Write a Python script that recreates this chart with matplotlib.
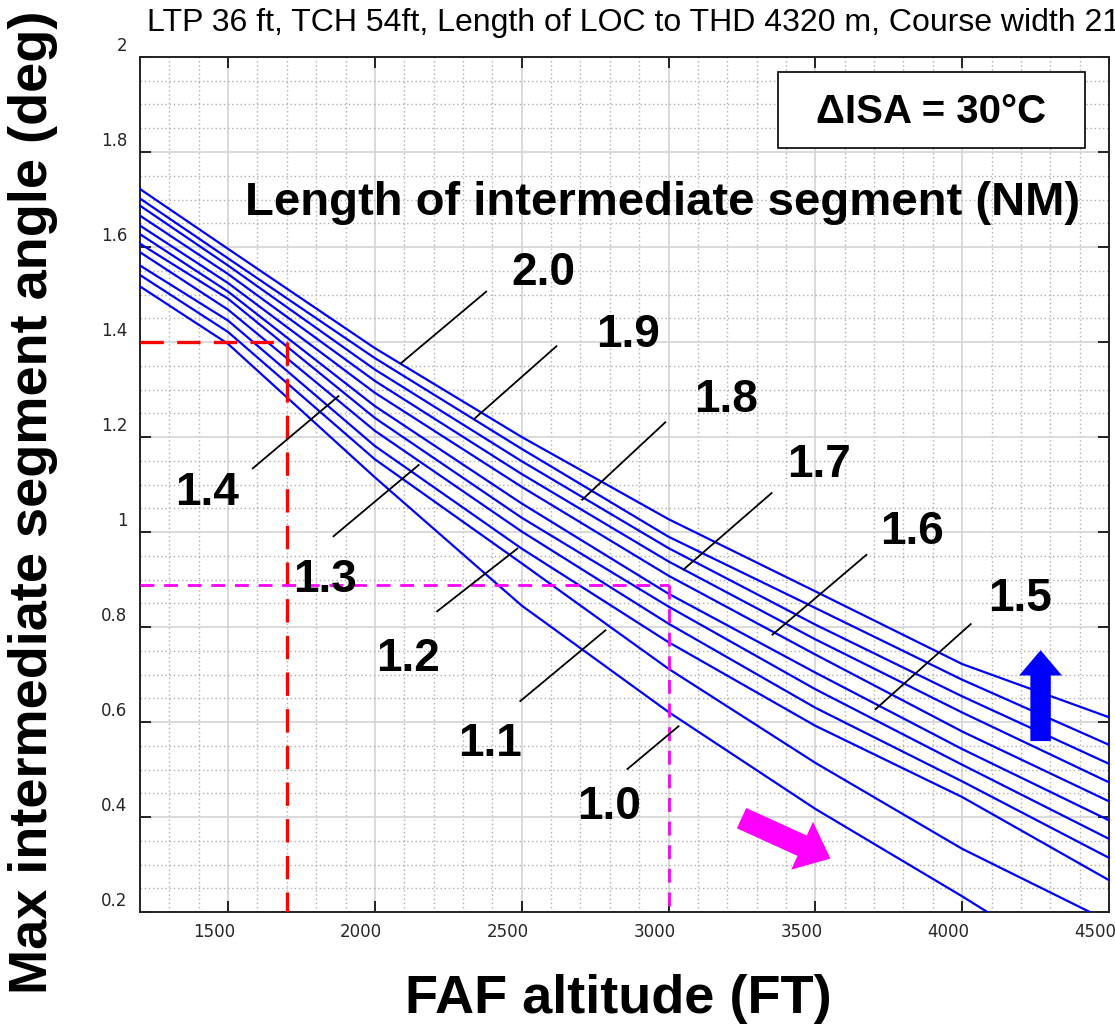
import matplotlib
matplotlib.use('Agg')
import matplotlib.pyplot as plt
from matplotlib.patches import FancyArrowPatch, Rectangle
from matplotlib.transforms import ScaledTranslation

# ---------------- data ----------------
faf_altitude = [1200, 1500, 2000, 2500, 3000, 3500, 4000, 4500]
seg_labels = ['2.0', '1.9', '1.8', '1.7', '1.6', '1.5', '1.4', '1.3', '1.2', '1.1', '1.0']

angle_2_0 = [1.722, 1.596, 1.387, 1.200, 1.027, 0.875, 0.722, 0.610]
angle_1_9 = [1.702, 1.576, 1.366, 1.175, 0.990, 0.840, 0.689, 0.552]
angle_1_8 = [1.687, 1.561, 1.342, 1.149, 0.966, 0.805, 0.654, 0.512]
angle_1_7 = [1.666, 1.543, 1.318, 1.122, 0.938, 0.774, 0.620, 0.473]
angle_1_6 = [1.645, 1.524, 1.293, 1.095, 0.908, 0.742, 0.580, 0.433]
angle_1_5 = [1.627, 1.506, 1.265, 1.060, 0.870, 0.704, 0.543, 0.393]
angle_1_4 = [1.607, 1.491, 1.240, 1.030, 0.843, 0.669, 0.510, 0.354]
angle_1_3 = [1.589, 1.468, 1.213, 1.001, 0.807, 0.630, 0.475, 0.314]
angle_1_2 = [1.561, 1.445, 1.181, 0.965, 0.768, 0.592, 0.442, 0.267]
angle_1_1 = [1.541, 1.421, 1.153, 0.934, 0.712, 0.514, 0.333, 0.180]
angle_1_0 = [1.517, 1.396, 1.115, 0.845, 0.621, 0.417, 0.233, 0.040]
series = [angle_2_0, angle_1_9, angle_1_8, angle_1_7, angle_1_6, angle_1_5,
          angle_1_4, angle_1_3, angle_1_2, angle_1_1, angle_1_0]

x_ticks = [1500, 2000, 2500, 3000, 3500, 4000, 4500]
x_tick_labels = ['1500', '2000', '2500', '3000', '3500', '4000', '4500']
y_ticks = [0.2, 0.4, 0.6, 0.8, 1.0, 1.2, 1.4, 1.6, 1.8, 2.0]
y_tick_labels = ['0.2', '0.4', '0.6', '0.8', '1', '1.2', '1.4', '1.6', '1.8', '2']

# label text positions and leader lines (x, y) for each curve
label_pos = [(2573, 1.546), (2863, 1.414), (3197, 1.278), (3511, 1.141), (3828, 0.999),
             (4196, 0.858), (1428, 1.082), (1831, 0.900), (2113, 0.732), (2393, 0.554),
             (2798, 0.421)]
leader_start = [(2379, 1.506), (2618, 1.391), (2989, 1.231), (3351, 1.082), (3674, 0.952),
                (4029, 0.806), (1584, 1.134), (1859, 0.991), (2212, 0.833), (2495, 0.644),
                (2860, 0.501)]
leader_end = [(2088, 1.355), (2338, 1.238), (2706, 1.068), (3051, 0.921), (3354, 0.784),
              (3705, 0.627), (1876, 1.286), (2149, 1.141), (2485, 0.965), (2785, 0.793),
              (3034, 0.591)]

example_red_alt, example_red_angle = 1700, 1.4
example_mag_alt, example_mag_angle = 3000, 0.888

title_text = 'LTP 36 ft, TCH 54ft, Length of LOC to THD 4320 m, Course width 210 m'

# ---------------- figure ----------------
fig = plt.figure(figsize=(11.15, 10.31), dpi=100)
ax = fig.add_axes([140/1115, 1-912/1031, 969/1115, 855/1031])
ax.set_xlim(1200, 4500)
ax.set_ylim(0.2, 2.0)

for vals in series:
    ax.plot(faf_altitude, vals, color='#0000ff', lw=1.6, zorder=3)

# grid
ax.set_xticks(x_ticks)
ax.set_xticklabels(x_tick_labels)
ax.set_yticks(y_ticks)
ax.set_yticklabels(y_tick_labels)
ax.set_xticks(list(range(1300, 4500, 100)), minor=True)
ax.set_yticks([0.2 + 0.05*i for i in range(37)], minor=True)
ax.grid(which='major', color='#d4d4d4', lw=1.2, ls='-', zorder=0)
ax.grid(which='minor', color='#b0b0b0', lw=1.0, ls=(0, (1, 2)), zorder=0)
ax.set_axisbelow(True)

ax.tick_params(which='major', direction='in', length=8, width=1.4, color='#222222',
               top=True, right=True, labelsize=12, labelcolor='#262626')
ax.tick_params(axis='y', which='major', pad=9)
ax.tick_params(axis='x', which='major', pad=8)
ax.tick_params(which='minor', length=0)
for sp in ax.spines.values():
    sp.set_linewidth(1.4)
    sp.set_color('#222222')

yoffset = ScaledTranslation(0, 13/100, fig.dpi_scale_trans)
for lbl in ax.get_yticklabels():
    lbl.set_transform(lbl.get_transform() + yoffset)
xoffset = ScaledTranslation(-14/100, 0, fig.dpi_scale_trans)
for lbl in ax.get_xticklabels():
    lbl.set_transform(lbl.get_transform() + xoffset)

# example dashed lines
ax.plot([1200, example_red_alt], [example_red_angle, example_red_angle], color='#ff0000',
        lw=2.4, ls=(0, (7, 4)), zorder=4)
ax.plot([example_red_alt, example_red_alt], [example_red_angle, 0.2], color='#ff0000',
        lw=2.4, ls=(0, (7, 4)), zorder=4)
ax.plot([1200, example_mag_alt], [example_mag_angle, example_mag_angle], color='#ff00ff',
        lw=2.0, ls=(0, (5, 3.5)), zorder=4)
ax.plot([example_mag_alt, example_mag_alt], [example_mag_angle, 0.2], color='#ff00ff',
        lw=2.0, ls=(0, (5, 3.5)), zorder=4)

# leader lines and labels
bold = dict(family='Liberation Sans', weight='bold', color='black')
for lab, (tx, ty), (x1, y1), (x2, y2) in zip(seg_labels, label_pos, leader_start, leader_end):
    ax.plot([x1, x2], [y1, y2], color='black', lw=1.3, zorder=5)
    ax.text(tx, ty, lab, ha='center', va='center', fontsize=33, zorder=6, **bold)

ax.text(0.539, 0.829, 'Length of intermediate segment (NM)', transform=ax.transAxes,
        ha='center', va='center', fontsize=34, zorder=6, **bold)

ax.add_patch(Rectangle((0.658, 0.8936), 0.317, 0.0884, transform=ax.transAxes,
                       facecolor='white', edgecolor='black', lw=1.2, zorder=6))
ax.text(0.816, 0.936, '\u0394ISA = 30\u00b0C', transform=ax.transAxes,
        ha='center', va='center', fontsize=29, zorder=7, **bold)

# arrows
ax.add_patch(FancyArrowPatch((4267, 0.554), (4267, 0.757),
                             arrowstyle='simple,head_width=2.2,head_length=1.3,tail_width=1.05',
                             mutation_scale=14, color='#0000ff', lw=0, zorder=6))
ax.add_patch(FancyArrowPatch((3240, 0.400), (3560, 0.310),
                             arrowstyle='simple,head_width=2.7,head_length=1.6,tail_width=1.15',
                             mutation_scale=14, color='#ff00ff', lw=0, zorder=6))

# axis labels and title
fig.text(405/1115, 1-1013/1031, 'FAF altitude (FT)', ha='left', va='baseline',
         fontsize=39, **bold)
fig.text(33/1115, 1-502/1031, 'Max intermediate segment angle (deg)', rotation=90,
         ha='center', va='center', fontsize=39, **bold)
fig.text(147/1115, 1-31/1031, title_text, ha='left', va='baseline', fontsize=23,
         family='Liberation Sans', color='black')

fig.savefig('out.png', dpi=100)
